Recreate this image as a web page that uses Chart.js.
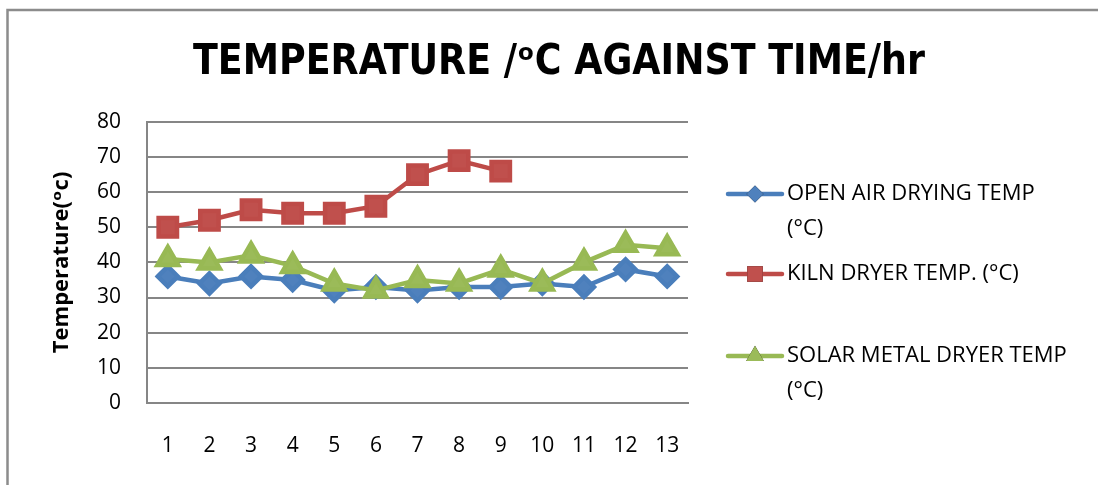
<!DOCTYPE html>
<html>
<head>
<meta charset="utf-8">
<script src="https://cdn.jsdelivr.net/npm/chart.js@4"></script>
<style>
  html, body { margin: 0; padding: 0; background: #fff; }
  #wrap { position: relative; width: 1098px; height: 485px; }
</style>
</head>
<body>
<div id="wrap"><canvas id="myChart" width="1098" height="485"></canvas></div>
<script>
// hours (x axis)
const hours = ['1', '2', '3', '4', '5', '6', '7', '8', '9', '10', '11', '12', '13']

// temperatures (°C)
const openAirTemp = [36, 34, 36, 35, 32, 33, 32, 33, 33, 34, 33, 38, 36]
const kilnTemp = [50, 52, 55, 54, 54, 56, 65, 69, 66, null, null, null, null]
const solarTemp = [41, 40, 42, 39, 34, 32, 35, 34, 38, 34, 40, 45, 44]

// legend labels (wrapped like in the original)
const seriesNames = [
  ['OPEN AIR DRYING TEMP', '(°C)'],
  ['KILN DRYER TEMP. (°C)'],
  ['SOLAR METAL DRYER TEMP', '(°C)']
]

const chartTitle = 'TEMPERATURE /ᵒC AGAINST TIME/hr'
const yTitle = 'Temperature(ᵒc)'

const baseFont = "'Open Sans', 'DejaVu Sans', sans-serif"
const gridGrey = '#868686'

// outer frame of the chart box + the big title
const framePlugin = {
  id: 'frame',
  beforeDraw(chart) {
    const ctx = chart.ctx
    ctx.save()
    ctx.fillStyle = '#fff'
    ctx.fillRect(0, 0, chart.width, chart.height)
    ctx.strokeStyle = '#8c8c8c'
    ctx.lineWidth = 2.5
    ctx.beginPath()
    ctx.moveTo(7.5, chart.height)
    ctx.lineTo(7.5, 10)
    ctx.lineTo(chart.width, 10)
    ctx.stroke()

    // title, squeezed to the width it has in the original
    ctx.font = "bold 42px 'DejaVu Sans Condensed', 'DejaVu Sans', sans-serif"
    ctx.fillStyle = '#000'
    ctx.textAlign = 'center'
    ctx.textBaseline = 'middle'
    const w = ctx.measureText(chartTitle).width
    const sx = 732 / w
    ctx.translate(559, 63)
    ctx.scale(sx, 1)
    ctx.fillText(chartTitle, 0, 0)
    ctx.restore()
  }
}

// legend on the right: line with marker, text can wrap to 2 lines
const sideLegend = {
  id: 'sideLegend',
  afterDraw(chart) {
    const ctx = chart.ctx
    const rowTops = [194, 274, 356]
    const lineH = 35
    const x0 = chart.chartArea.right + 40
    ctx.save()
    chart.data.datasets.forEach((ds, i) => {
      const cy = rowTops[i]
      ctx.strokeStyle = ds.borderColor
      ctx.lineWidth = 4.5
      ctx.lineCap = 'round'
      ctx.beginPath()
      ctx.moveTo(x0, cy)
      ctx.lineTo(x0 + 54, cy)
      ctx.stroke()
      Chart.helpers.drawPoint(ctx, {
        pointStyle: ds.pointStyle,
        radius: ds.pointRadius * 0.85,
        rotation: 0,
        borderWidth: 0
      }, x0 + 27, cy)
      ctx.fillStyle = ds.pointBackgroundColor
      ctx.fill()
      ctx.fillStyle = '#000'
      ctx.font = "22px " + baseFont
      ctx.textBaseline = 'middle'
      ctx.textAlign = 'left'
      ds.legendLines.forEach((t, j) => {
        ctx.fillText(t, x0 + 59, cy + j * lineH)
      })
    })
    ctx.restore()
  }
}

const data = {
  labels: hours,
  datasets: [
    {
      label: 'OPEN AIR DRYING TEMP (°C)',
      legendLines: seriesNames[0],
      data: openAirTemp,
      order: 3,
      borderColor: '#4a7ebb',
      backgroundColor: '#4f81bd',
      pointBackgroundColor: '#4f81bd',
      pointBorderColor: '#4a7ebb',
      pointStyle: 'rectRot',
      pointRadius: 10,
      borderWidth: 4.5
    },
    {
      label: 'KILN DRYER TEMP. (°C)',
      legendLines: seriesNames[1],
      data: kilnTemp,
      order: 2,
      borderColor: '#be4b48',
      backgroundColor: '#c0504d',
      pointBackgroundColor: '#c0504d',
      pointBorderColor: '#be4b48',
      pointStyle: 'rect',
      pointRadius: 13,
      borderWidth: 4.5
    },
    {
      label: 'SOLAR METAL DRYER TEMP (°C)',
      legendLines: seriesNames[2],
      data: solarTemp,
      order: 1,
      borderColor: '#98b954',
      backgroundColor: '#9bbb59',
      pointBackgroundColor: '#9bbb59',
      pointBorderColor: '#98b954',
      pointStyle: 'triangle',
      pointRadius: 12,
      borderWidth: 4.5
    }
  ]
}

const config = {
  type: 'line',
  data,
  options: {
    responsive: false,
    animation: false,
    layout: { padding: { left: 49, right: 410, top: 122, bottom: -5 } },
    elements: { point: { borderWidth: 1 }, line: { tension: 0 } },
    plugins: {
      legend: { display: false },
      tooltip: { enabled: false },
      title: { display: false }
    },
    scales: {
      x: {
        offset: true,
        grid: { display: false, drawTicks: false },
        border: { display: true, color: gridGrey, width: 2 },
        ticks: { color: '#000', font: { family: baseFont, size: 21 }, padding: 31, maxRotation: 0 }
      },
      y: {
        min: 0,
        max: 80,
        ticks: { stepSize: 10, color: '#000', font: { family: baseFont, size: 21 }, padding: 26 },
        grid: { color: gridGrey, lineWidth: 2, drawTicks: false },
        border: { display: true, color: gridGrey, width: 2 },
        title: {
          display: true,
          text: yTitle,
          color: '#000',
          font: { family: baseFont, size: 22, weight: 'bold' },
          padding: 0
        },
        afterFit(scale) { scale.width = 98 }
      }
    }
  },
  plugins: [framePlugin, sideLegend]
}

const myChart = new Chart(document.getElementById('myChart'), config)
</script>
</body>
</html>
